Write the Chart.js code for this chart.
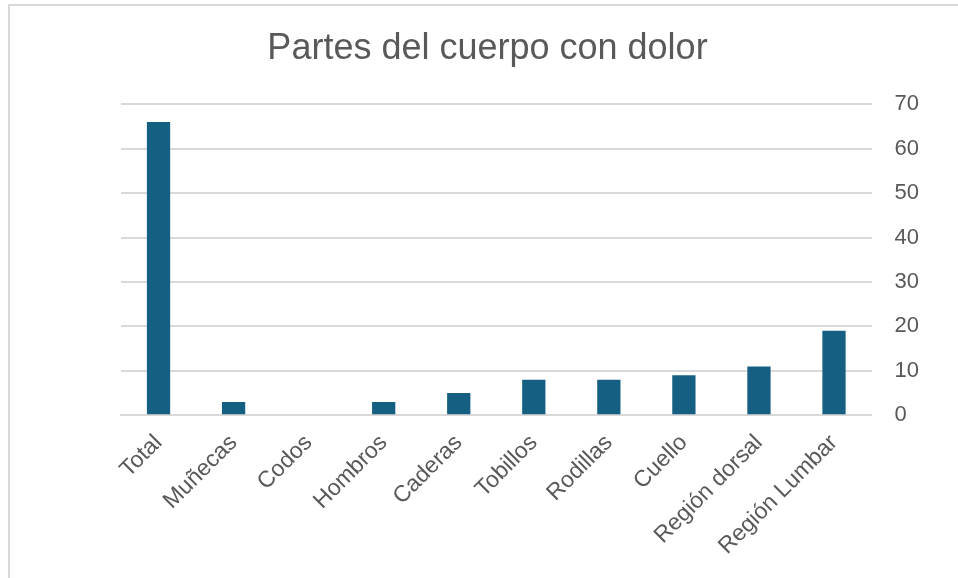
<!DOCTYPE html>
<html>
<head>
<meta charset="utf-8">
<script src="https://cdn.jsdelivr.net/npm/chart.js@4.4.1/dist/chart.umd.min.js"></script>
<style>
  html, body { margin: 0; padding: 0; background: #fff; }
  body { width: 958px; height: 578px; overflow: hidden; position: relative; }
  .frame {
    position: absolute; left: 8px; top: 4px; width: 1000px; height: 650px;
    border-left: 2px solid #d9d9d9; border-top: 2px solid #d9d9d9;
  }
  #chart-wrap { position: absolute; left: 0; top: 0; width: 958px; height: 578px; }
</style>
</head>
<body>
<div class="frame"></div>
<div id="chart-wrap"><canvas id="chart"></canvas></div>
<script>
// Data
const categories = ['Total', 'Muñecas', 'Codos', 'Hombros', 'Caderas', 'Tobillos', 'Rodillas', 'Cuello', 'Región dorsal', 'Región Lumbar'];
const painCounts = [66, 3, 0, 3, 5, 8, 8, 9, 11, 19];
const yTicks = [0, 10, 20, 30, 40, 50, 60, 70];

const textColor = '#595959';
const gridColor = '#d9d9d9';
const barColor = '#156082';
const fontFamily = '"Liberation Sans", Arial, sans-serif';

Chart.defaults.font.family = fontFamily;
Chart.defaults.color = textColor;

const ctx = document.getElementById('chart').getContext('2d');
const chart = new Chart(ctx, {
    type: 'bar',
    data: {
        labels: categories,
        datasets: [{
            label: 'Partes del cuerpo con dolor',
            data: painCounts,
            backgroundColor: barColor,
            borderWidth: 0,
            barPercentage: 0.31,
            categoryPercentage: 1
        }]
    },
    options: {
        responsive: true,
        maintainAspectRatio: false,
        animation: false,
        layout: {
            padding: { left: 33, right: 16, top: 0, bottom: 12 }
        },
        scales: {
            x: {
                grid: { display: false },
                border: { color: gridColor, width: 2 },
                ticks: {
                    color: textColor,
                    font: { size: 23 },
                    maxRotation: 45,
                    minRotation: 45,
                    autoSkip: false,
                    padding: 6
                }
            },
            y: {
                position: 'right',
                min: 0,
                max: yTicks[yTicks.length - 1],
                afterBuildTicks: (axis) => {
                    axis.ticks = yTicks.map(v => ({ value: v }));
                },
                border: { display: false },
                grid: { color: gridColor, lineWidth: 2, drawTicks: false },
                ticks: {
                    color: textColor,
                    font: { size: 22 },
                    padding: 23
                }
            },
            // empty spacer on the left so the title stays centred like the original
            spacer: {
                position: 'left',
                type: 'linear',
                grid: { display: false },
                border: { display: false },
                ticks: { display: false },
                afterFit: (axis) => { axis.width = 88; }
            }
        },
        plugins: {
            legend: { display: false },
            tooltip: { enabled: false },
            title: {
                display: true,
                text: 'Partes del cuerpo con dolor',
                color: textColor,
                font: { size: 36, weight: 'normal' },
                padding: { top: 27, bottom: 34 }
            }
        }
    }
});
</script>
</body>
</html>
